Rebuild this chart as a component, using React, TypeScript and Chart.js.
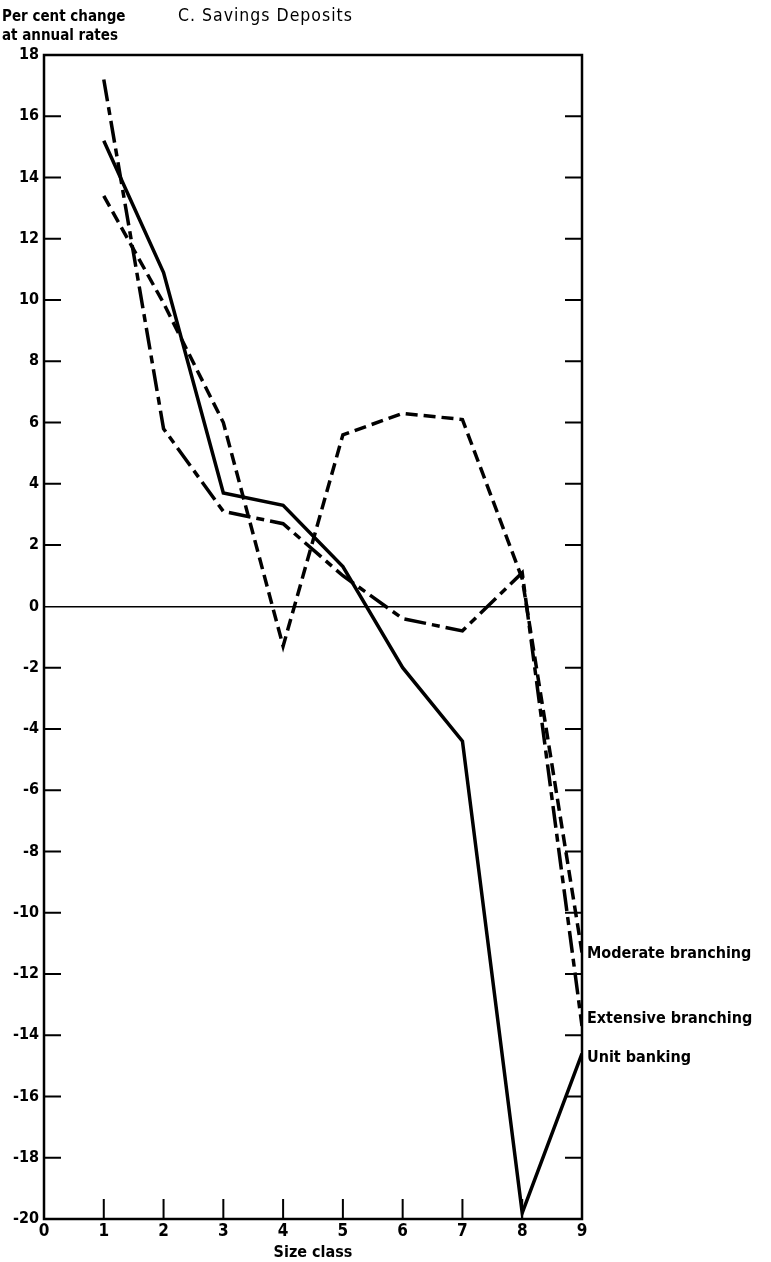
import React, { useEffect, useRef } from "react";
import { Chart, registerables } from "chart.js";

Chart.register(...registerables);

const sizeClasses = [1, 2, 3, 4, 5, 6, 7, 8, 9];
const unitBanking = [15.2, 10.9, 3.7, 3.3, 1.3, -2.0, -4.4, -19.8, -14.6];
const moderateBranching = [13.4, 9.9, 6.0, -1.3, 5.6, 6.3, 6.1, 0.9, -11.3];
const extensiveBranching = [17.2, 5.8, 3.1, 2.7, 1.0, -0.4, -0.8, 1.1, -13.7];
const seriesNames = ["Moderate branching", "Extensive branching", "Unit banking"];
const labelShift = [1, -7, 4];

const Y_MIN = -20;
const Y_MAX = 18;
const X_MIN = 0;
const X_MAX = 9;
const FONT = "DejaVu Sans Condensed";

const toPoints = (vals: number[]) => vals.map((v, i) => ({ x: sizeClasses[i], y: v }));

const decor = {
  id: "decor",
  afterDatasetsDraw(chart: any) {
    const { ctx, chartArea: a, scales } = chart;
    const x = scales.x;
    const y = scales.y;
    ctx.save();
    ctx.strokeStyle = "#000";
    ctx.lineWidth = 2.5;
    ctx.strokeRect(a.left, a.top, a.right - a.left, a.bottom - a.top);
    ctx.lineWidth = 2;
    ctx.beginPath();
    y.ticks.forEach((t: any) => {
      if (t.value === Y_MIN || t.value === Y_MAX || t.value === 0) return;
      const py = y.getPixelForValue(t.value);
      ctx.moveTo(a.left, py);
      ctx.lineTo(a.left + 17, py);
      ctx.moveTo(a.right - 17, py);
      ctx.lineTo(a.right, py);
    });
    x.ticks.forEach((t: any) => {
      if (t.value === X_MIN || t.value === X_MAX) return;
      const px = x.getPixelForValue(t.value);
      ctx.moveTo(px, a.bottom);
      ctx.lineTo(px, a.bottom - 20);
    });
    ctx.stroke();
    ctx.fillStyle = "#000";
    ctx.font = `bold 16px "${FONT}"`;
    ctx.textBaseline = "middle";
    ctx.textAlign = "left";
    chart.data.datasets.forEach((ds: any, i: number) => {
      const meta = chart.getDatasetMeta(i);
      const last = meta.data[meta.data.length - 1];
      ctx.fillText(ds.label, last.x + 5, last.y + labelShift[i]);
    });
    ctx.restore();
  },
};

export default function App() {
  const ref = useRef<HTMLCanvasElement | null>(null);

  useEffect(() => {
    document.body.style.margin = "0";
    const c = ref.current;
    if (!c) return;
    const chart = new Chart(c, {
      type: "line",
      data: {
        datasets: [
          {
            label: seriesNames[0],
            data: toPoints(moderateBranching),
            borderColor: "#000",
            borderWidth: 3.5,
            borderDash: [12, 6],
            pointRadius: 0,
            tension: 0,
          },
          {
            label: seriesNames[1],
            data: toPoints(extensiveBranching),
            borderColor: "#000",
            borderWidth: 3.5,
            borderDash: [22, 6, 8, 6],
            pointRadius: 0,
            tension: 0,
          },
          {
            label: seriesNames[2],
            data: toPoints(unitBanking),
            borderColor: "#000",
            borderWidth: 3.5,
            pointRadius: 0,
            tension: 0,
          },
        ],
      },
      options: {
        animation: false,
        responsive: false,
        maintainAspectRatio: false,
        layout: { padding: { top: 55, right: 189, left: 0, bottom: 0 } },
        plugins: {
          legend: { display: false },
          tooltip: { enabled: false },
        },
        scales: {
          x: {
            type: "linear",
            min: X_MIN,
            max: X_MAX,
            ticks: {
              stepSize: 1,
              color: "#000",
              padding: 2,
              font: { family: FONT, size: 17, weight: "bold" },
            },
            grid: { display: false, drawTicks: false },
            border: { display: false },
            title: {
              display: true,
              text: "Size class",
              color: "#000",
              padding: { top: -4, bottom: 0 },
              font: { family: FONT, size: 16, weight: "bold" },
            },
            afterFit: (s: any) => {
              s.height = 43;
            },
          },
          y: {
            type: "linear",
            min: Y_MIN,
            max: Y_MAX,
            ticks: {
              stepSize: 2,
              color: "#000",
              padding: 5,
              font: { family: FONT, size: 16, weight: "bold" },
              callback: (v: any) => String(v),
            },
            grid: {
              drawTicks: false,
              color: (ctx: any) => (ctx.tick && ctx.tick.value === 0 ? "#000" : "rgba(0,0,0,0)"),
              lineWidth: 1.5,
            },
            border: { display: false },
            afterFit: (s: any) => {
              s.width = 44;
            },
          },
        },
      },
      plugins: [decor],
    });
    return () => chart.destroy();
  }, []);

  return (
    <div style={{ position: "relative", width: 771, height: 1262, background: "#fff" }}>
      <canvas ref={ref} width={771} height={1262} style={{ display: "block" }} />
      <div
        style={{
          position: "absolute",
          left: 2,
          top: 7,
          fontFamily: FONT,
          fontWeight: "bold",
          fontSize: 15,
          lineHeight: "19px",
          color: "#000",
        }}
      >
        Per cent change
        <br />
        at annual rates
      </div>
      <div
        style={{
          position: "absolute",
          left: 178,
          top: 5,
          fontFamily: FONT,
          fontSize: 17.5,
          letterSpacing: 1,
          color: "#000",
        }}
      >
        C. Savings Deposits
      </div>
    </div>
  );
}
